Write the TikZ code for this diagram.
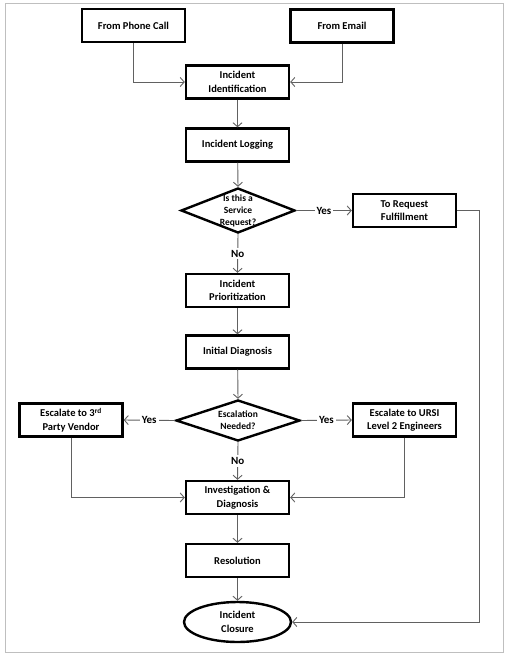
\documentclass[tikz,border=0pt]{standalone}
\usepackage{fontspec}
\setmainfont{Carlito}
\usetikzlibrary{shapes.geometric,arrows.meta}
\begin{document}
\begin{tikzpicture}[x=1pt,y=-1pt,
  box/.style={draw=black,line width=2.4pt,rectangle,minimum width=103pt,minimum height=33pt,inner sep=0pt,align=center,font=\fontsize{10.5}{13.5}\selectfont\bfseries},
  dia/.style={draw=black,line width=2.4pt,diamond,inner sep=0pt},
  dtext/.style={align=center,font=\fontsize{9.5}{12}\selectfont\bfseries,inner sep=0pt},
  oval/.style={draw=black,line width=2.4pt,ellipse,minimum width=107pt,minimum height=40pt,inner sep=0pt,align=center,font=\fontsize{10.5}{13.5}\selectfont\bfseries},
  arr/.style={draw=black!62,line width=0.9pt,-{Straight Barb[length=4pt,width=9pt]}},
  lab/.style={fill=white,inner sep=2pt,font=\fontsize{11}{13}\selectfont\bfseries}]
\useasboundingbox (0,0) rectangle (505,657);
\draw[black!25,line width=1pt] (5,3) rectangle (503,652);
\node[box] (phone) at (133.5,25.5) {From Phone Call};
\node[box] (email) at (342,26) {From Email};
\node[box] (ident) at (237.5,82) {Incident\\Identification};
\node[box] (log) at (237.5,145) {Incident Logging};
\node[dia,minimum width=114pt,minimum height=45pt] (d1) at (238,210.5) {};
\node[dtext] (d1t) at (238,210.5) {Is this a\\Service\\Request?};
\node[box] (fulf) at (404.5,210.5) {To Request\\Fulfillment};
\node[box] (prio) at (237.5,290.5) {Incident\\Prioritization};
\node[box] (diag) at (237.5,352) {Initial Diagnosis};
\node[dia,minimum width=124pt,minimum height=41pt] (d2) at (238,420.5) {};
\node[dtext] (d2t) at (238,420.5) {Escalation\\Needed?};
\node[box] (vendor) at (71,420) {Escalate to 3\textsuperscript{rd}\\Party Vendor};
\node[box] (ursi) at (404.5,420) {Escalate to URSI\\Level 2 Engineers};
\node[box] (inv) at (237.5,497.5) {Investigation \&\\Diagnosis};
\node[box] (res) at (237.5,560.5) {Resolution};
\node[oval] (clos) at (237.5,622) {Incident\\Closure};
\coordinate (fr) at (479,210.5);
\draw[arr] (phone.south) |- (ident.west);
\draw[arr] (email.south) |- (ident.east);
\draw[arr] (ident) -- (log);
\draw[arr] (log) -- (d1.north);
\draw[arr] (d1.east) -- node[lab] {Yes} (fulf.west);
\draw[arr] (d1.south) -- node[lab] {No} (prio.north);
\draw[arr] (fulf.east) -- (fr) |- (clos.east);
\draw[arr] (prio) -- (diag);
\draw[arr] (diag) -- (d2.north);
\draw[arr] (d2.west) -- node[lab] {Yes} (vendor.east);
\draw[arr] (d2.east) -- node[lab] {Yes} (ursi.west);
\draw[arr] (d2.south) -- node[lab] {No} (inv.north);
\draw[arr] (vendor.south) |- (inv.west);
\draw[arr] (ursi.south) |- (inv.east);
\draw[arr] (inv) -- (res);
\draw[arr] (res) -- (clos);
\end{tikzpicture}
\end{document}
